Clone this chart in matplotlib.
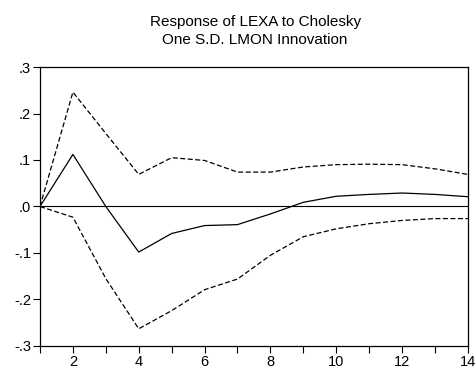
import matplotlib
matplotlib.use("Agg")
import matplotlib.pyplot as plt
import matplotlib.ticker as mticker

plt.rcParams["font.family"] = ["Liberation Sans", "DejaVu Sans"]

periods = list(range(1, 15))
response = [0.0, 0.112, 0.0, -0.098, -0.058, -0.041, -0.039, -0.016,
            0.009, 0.022, 0.026, 0.029, 0.026, 0.021]
upper = [0.0, 0.246, 0.157, 0.069, 0.105, 0.099, 0.074, 0.074,
         0.085, 0.090, 0.091, 0.090, 0.081, 0.069]
lower = [0.0, -0.023, -0.155, -0.263, -0.224, -0.179, -0.156, -0.105,
         -0.065, -0.048, -0.037, -0.030, -0.026, -0.026]

ytick_vals = [-0.3, -0.2, -0.1, 0.0, 0.1, 0.2, 0.3]
ytick_labels = ["-.3", "-.2", "-.1", ".0", ".1", ".2", ".3"]


def main():
    fig = plt.figure(figsize=(4.76, 3.71), dpi=100)
    ax = fig.add_axes([0.084, 0.0674, 0.899, 0.752])

    ax.plot(periods, response, color="black", linewidth=0.9)
    ax.plot(periods, upper, color="black", linewidth=0.9, linestyle=(0, (4, 2)))
    ax.plot(periods, lower, color="black", linewidth=0.9, linestyle=(0, (4, 2)))
    ax.axhline(0, color="black", linewidth=0.8)

    ax.set_xlim(1, 14)
    ax.set_ylim(-0.3, 0.3)
    ax.set_yticks(ytick_vals)
    ax.set_yticklabels(ytick_labels)
    ax.xaxis.set_major_locator(mticker.FixedLocator(range(2, 15, 2)))
    ax.xaxis.set_minor_locator(mticker.FixedLocator(range(1, 15, 2)))
    ax.tick_params(axis="both", which="both", direction="out", length=5,
                   width=0.8, labelsize=10.5, pad=1.5)
    for s in ax.spines.values():
        s.set_linewidth(0.9)

    fig.text(0.536, 1 - 22 / 371, "Response of LEXA to Cholesky",
             fontsize=11, ha="center", va="center")
    fig.text(0.536, 1 - 40 / 371, "One S.D. LMON Innovation",
             fontsize=11, ha="center", va="center")

    fig.savefig("out.png", dpi=100)


if __name__ == "__main__":
    main()
